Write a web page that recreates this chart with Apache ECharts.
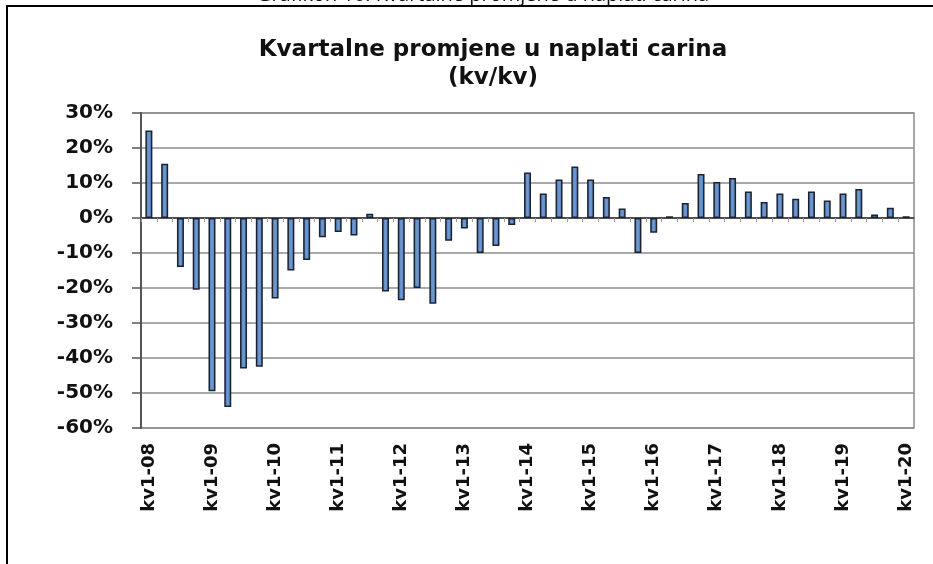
<!DOCTYPE html>
<html>
<head>
<meta charset="utf-8">
<title>Kvartalne promjene u naplati carina</title>
<script src="https://cdn.jsdelivr.net/npm/echarts@6/dist/echarts.min.js"></script>
<style>
    html, body { margin: 0; padding: 0; background: #fff; }
    #chart { width: 933px; height: 564px; }
</style>
</head>
<body>
<div id="chart"></div>
<script>
// === DATA ===
const years = ["08", "09", "10", "11", "12", "13", "14", "15", "16", "17", "18", "19", "20"];
const quarters = ["kv1", "kv2", "kv3", "kv4"];

// quarter-on-quarter change in customs collection, %
const changes = [
    25, 15.5, -14, -20.5,
    -49.5, -54, -43, -42.5,
    -23, -15, -12, -5.5,
    -4, -5, 1.2, -21,
    -23.5, -20, -24.5, -6.5,
    -3, -10, -8, -2,
    13, 7, 11, 14.7,
    11, 6, 2.7, -10,
    -4.2, 0.5, 4.3, 12.6,
    10.3, 11.4, 7.6, 4.6,
    7, 5.5, 7.6, 5,
    7, 8.3, 1, 2.9,
    0.5,
];

const yTicks = { min: -60, max: 30, interval: 10 };

const categories = [];
years.forEach((yy) => {
    quarters.forEach((q) => {
        if (categories.length < changes.length) categories.push(q + "-" + yy);
    });
});

const captionText = "Grafikon 10: Kvartalne promjene u naplati carina";
const titleText = "Kvartalne promjene u naplati carina\n(kv/kv)";

// === CHART ===
const chart = echarts.init(document.getElementById("chart"));

const option = {
    animation: false,
    backgroundColor: "#fff",
    title: {
        text: titleText,
        left: 488,
        top: 31,
        textAlign: "center",
        textStyle: {
            fontFamily: "DejaVu Sans",
            fontWeight: "bold",
            fontSize: 23,
            lineHeight: 28,
            color: "#111",
        },
    },
    graphic: [
        {
            type: "rect",
            shape: { x: 7, y: 6, width: 1000, height: 1000 },
            style: { fill: "none", stroke: "#000", lineWidth: 2 },
            silent: true,
        },
        {
            type: "text",
            x: 483,
            y: 5,
            style: {
                text: captionText,
                fontFamily: "Open Sans",
                fontSize: 20,
                fill: "#111",
                align: "center",
                verticalAlign: "bottom",
            },
            silent: true,
        },
    ],
    grid: {
        left: 141,
        right: 19,
        top: 113,
        bottom: 136,
        show: true,
        borderColor: "#8c8c8c",
        borderWidth: 1.5,
    },
    xAxis: [
        {
            // axis line and ticks along zero
            type: "category",
            data: categories,
            position: "top",
            axisLine: { onZero: true, lineStyle: { color: "#333", width: 1.5 } },
            axisTick: { show: true, inside: true, interval: 0, length: 4, lineStyle: { color: "#9a9a9a" } },
            axisLabel: { show: false },
            splitLine: { show: false },
        },
        {
            // labels at the bottom
            type: "category",
            data: categories,
            position: "bottom",
            axisLine: { show: false, onZero: false },
            axisTick: { show: false },
            axisLabel: {
                interval: 3,
                rotate: 90,
                margin: 15,
                fontFamily: "DejaVu Sans",
                fontWeight: "bold",
                fontSize: 18,
                color: "#111",
            },
            splitLine: { show: false },
        },
    ],
    yAxis: {
        type: "value",
        min: yTicks.min,
        max: yTicks.max,
        interval: yTicks.interval,
        axisLine: { show: true, lineStyle: { color: "#555", width: 2 } },
        axisTick: { show: true, length: 9, lineStyle: { color: "#555", width: 1.5 } },
        axisLabel: {
            formatter: "{value}%",
            margin: 28,
            fontFamily: "DejaVu Sans",
            fontWeight: "bold",
            fontSize: 20,
            color: "#111",
        },
        splitLine: { lineStyle: { color: "#8c8c8c", width: 1.5 } },
    },
    series: [
        {
            name: "kv/kv",
            type: "bar",
            xAxisIndex: 0,
            data: changes,
            barWidth: 7,
            itemStyle: {
                color: new echarts.graphic.LinearGradient(0, 0, 1, 0, [
                    { offset: 0, color: "#4a76b0" },
                    { offset: 0.5, color: "#6f9ad3" },
                    { offset: 1, color: "#4a76b0" },
                ]),
                borderColor: "#1b2230",
                borderWidth: 1.5,
            },
        },
    ],
};

chart.setOption(option);
</script>
</body>
</html>
